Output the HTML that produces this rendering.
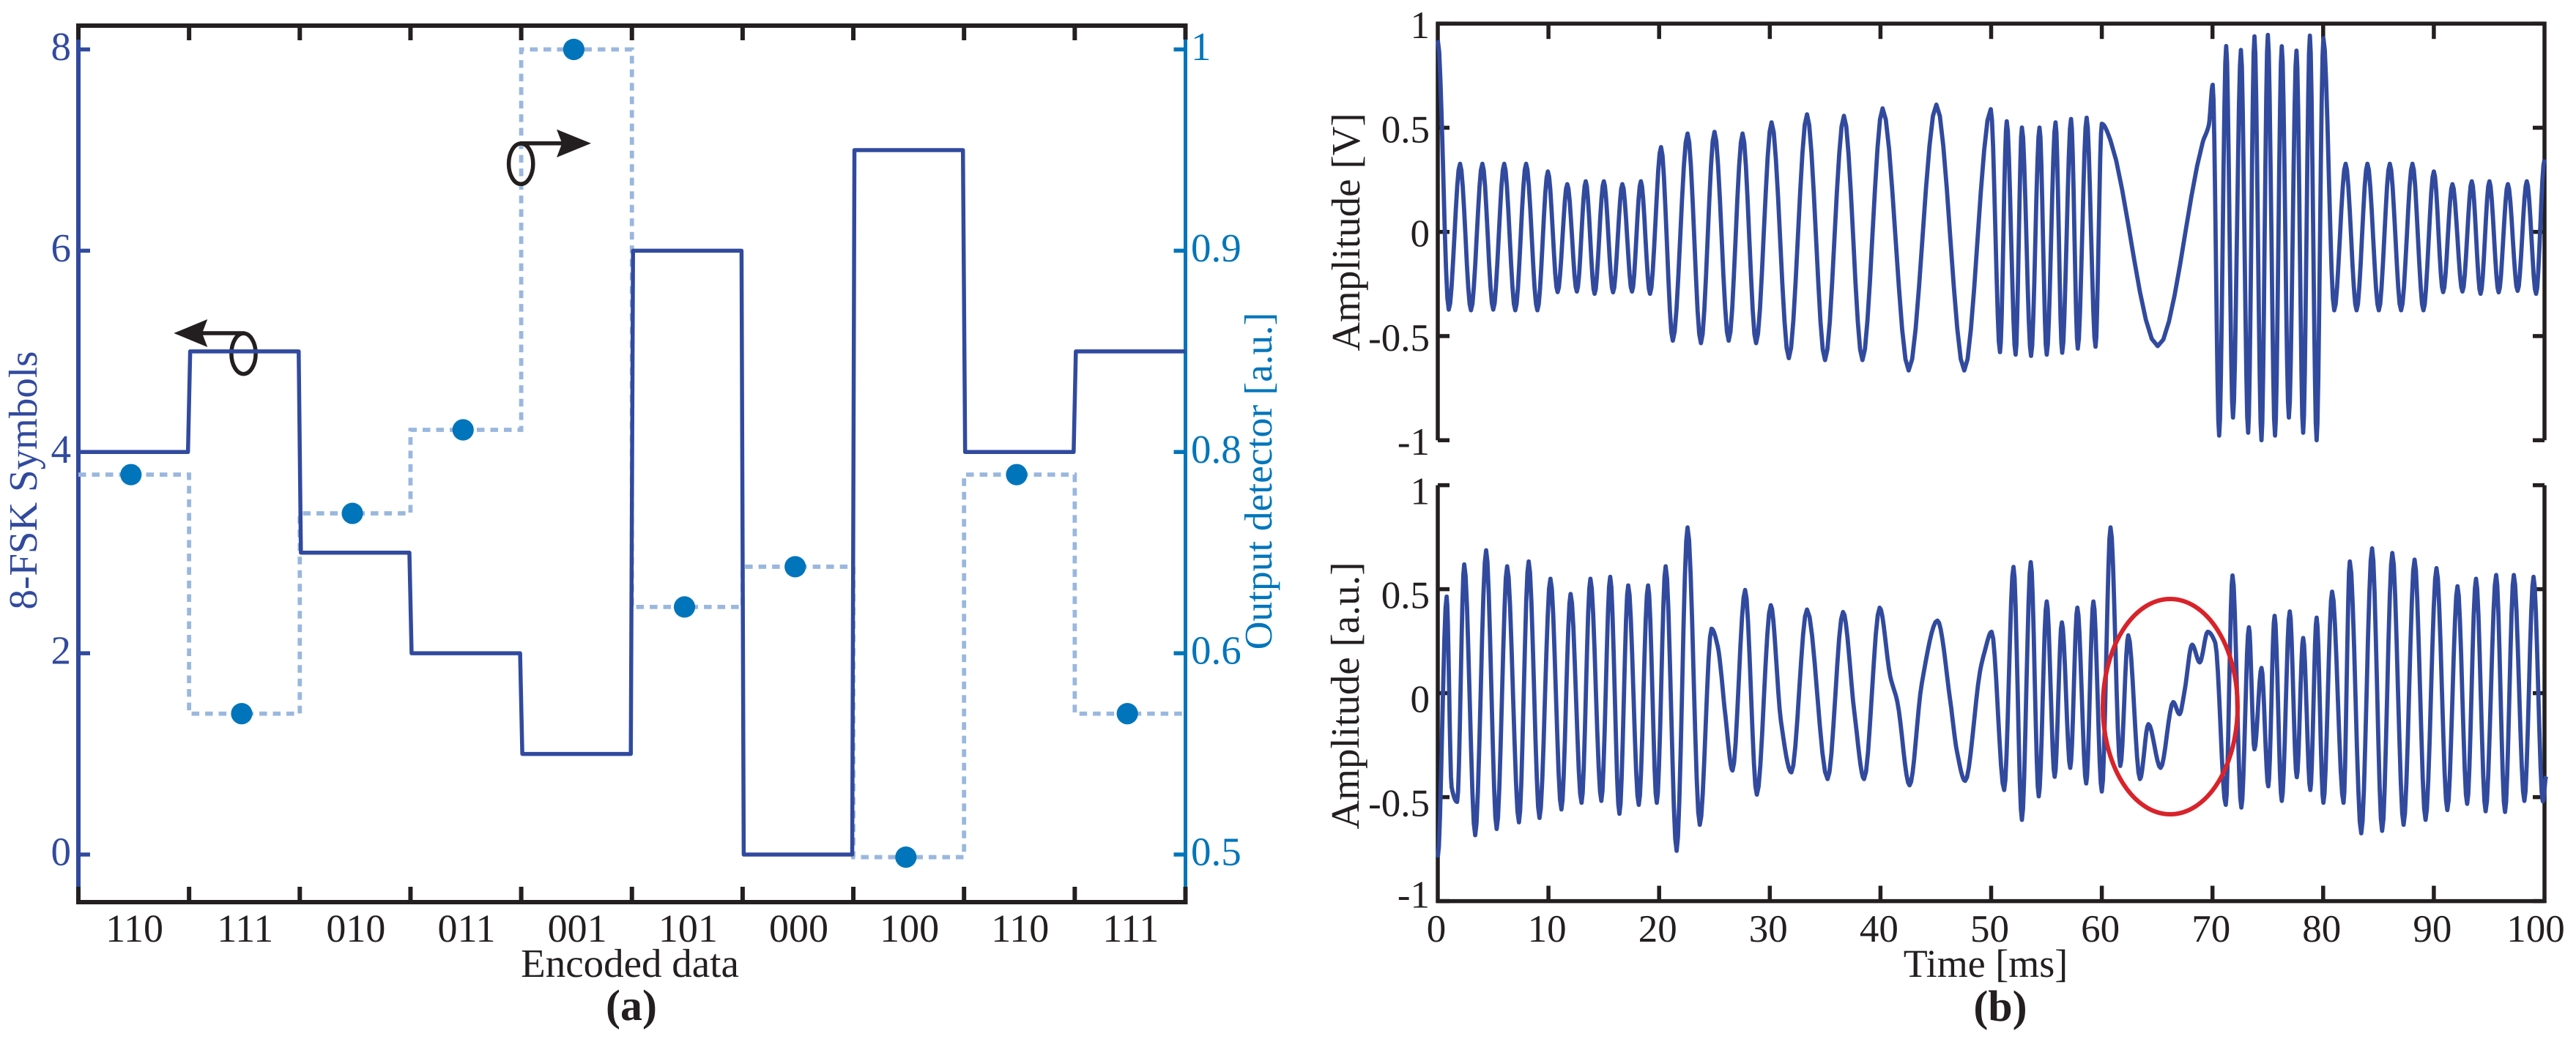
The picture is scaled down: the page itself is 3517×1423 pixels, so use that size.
<!DOCTYPE html>
<html lang="en">
<head>
<meta charset="utf-8">
<title>8-FSK symbols and signal amplitude</title>
<style>
html,body{margin:0;padding:0;background:#fff;}
svg{display:block;}
text{font-family:"Liberation Serif",serif;text-rendering:geometricPrecision;}
</style>
</head>
<body>
<svg id="fig" xmlns="http://www.w3.org/2000/svg" width="3517" height="1423" viewBox="0 0 3517 1423">
  <rect x="0" y="0" width="3517" height="1423" fill="#fff"/>
  <g id="panel-a"></g>
  <g id="panel-b"></g>

  <text transform="translate(50,656) rotate(-90)" text-anchor="middle" font-size="55" fill="#314a9e">8-FSK Symbols</text>
  <text transform="translate(1736,657) rotate(-90)" text-anchor="middle" font-size="53.5" fill="#0075bb">Output detector [a.u.]</text>
  <text x="860" y="1334" text-anchor="middle" font-size="55" fill="#231f20">Encoded data</text>
  <text x="862" y="1393" text-anchor="middle" font-size="60" font-weight="bold" fill="#231f20">(a)</text>

  <text transform="translate(1856,317) rotate(-90)" text-anchor="middle" font-size="55" fill="#231f20">Amplitude [V]</text>
  <text transform="translate(1855,950) rotate(-90)" text-anchor="middle" font-size="55" fill="#231f20">Amplitude [a.u.]</text>
  <text x="2711" y="1334" text-anchor="middle" font-size="54" fill="#231f20">Time [ms]</text>
  <text x="2731" y="1394" text-anchor="middle" font-size="60" font-weight="bold" fill="#231f20">(b)</text>
</svg>

<script>
// ---- Panel (a) data ----
const categories = ["110","111","010","011","001","101","000","100","110","111"];
const symbols = [4,5,3,2,1,6,0,7,4,5];
const detector = [0.7775,0.570,0.739,0.811,1.0,0.646,0.686,0.4987,0.7775,0.570];
const leftTicks = [0,2,4,6,8];
const rightTicks = [0.5,0.6,0.8,0.9,1];
const rightTickLabels = ["0.5","0.6","0.8","0.9","1"];

// ---- Panel (b) data: turning points of each trace ----
const topTimes = [0,0.99,2.01,3.0,4.03,5.01,6.0,7.0,7.98,9.0,9.95,10.83,11.7,12.57,13.37,14.17,15.0,15.84,16.68,17.55,18.35,19.18,20.17,21.24,22.57,23.78,25.0,26.29,27.54,28.76,30.16,31.72,33.36,34.99,36.7,38.37,40.19,42.55,45.05,47.57,49.97,50.8,51.41,52.21,52.78,53.61,54.37,55.02,55.82,56.42,57.22,57.83,58.63,59.43,60.0,60.76,65.05,69.11,69.68,70.02,70.6,71.24,71.85,72.57,73.22,73.79,74.43,75.0,75.65,76.26,76.9,77.59,78.19,78.8,79.41,80.02,81.0,82.03,83.02,84.0,85.03,86.02,87.04,88.07,89.06,90.0,90.84,91.68,92.59,93.43,94.22,95.02,95.86,96.69,97.57,98.4,99.24,100.0];
const topAmps = [0.92,-0.373,0.327,-0.376,0.327,-0.373,0.327,-0.376,0.327,-0.376,0.29,-0.289,0.229,-0.286,0.243,-0.297,0.243,-0.29,0.229,-0.286,0.243,-0.297,0.407,-0.522,0.472,-0.534,0.48,-0.522,0.472,-0.534,0.526,-0.606,0.564,-0.615,0.557,-0.615,0.593,-0.665,0.611,-0.665,0.589,-0.577,0.531,-0.589,0.501,-0.595,0.501,-0.589,0.526,-0.58,0.542,-0.56,0.548,-0.551,0.519,0.443,-0.548,0.429,0.516,0.706,-0.978,0.892,-0.891,0.873,-0.964,0.939,-1.0,0.946,-0.978,0.891,-0.891,0.87,-0.964,0.942,-1.0,0.93,-0.376,0.327,-0.376,0.327,-0.376,0.327,-0.376,0.327,-0.376,0.29,-0.289,0.229,-0.286,0.243,-0.297,0.243,-0.29,0.229,-0.283,0.243,-0.297,0.348];

const bottomTimes = [0,0.8,1.25,1.75,2.39,3.38,4.37,5.32,6.27,7.33,8.21,9.19,10.18,11.17,12.0,12.99,13.79,14.78,15.58,16.41,17.21,18.16,19.0,19.79,20.59,21.58,22.57,23.67,24.73,25.3,26.0,26.63,27.77,28.83,30.09,31.0,31.95,33.36,35.22,36.62,37.65,38.52,39.93,40.88,41.53,42.63,43.73,45.15,46.32,46.89,47.65,48.98,49.36,50.04,51.18,52.02,52.78,53.58,54.3,55.02,55.74,56.39,57.15,57.79,58.59,59.24,60.0,60.79,61.67,62.39,63.45,64.21,65.31,66.45,67.02,67.48,68.16,68.85,69.57,70.25,71.2,71.81,72.61,73.29,73.79,74.43,75.04,75.61,76.26,76.98,77.62,78.19,78.84,79.41,80.02,80.81,81.84,82.41,83.44,84.42,85.33,86.25,87.27,88.26,89.25,90.24,91.22,92.14,93.01,93.81,94.68,95.63,96.43,97.23,98.18,99.01,99.85,100.15];
const bottomAmps = [-0.79,0.464,-0.452,-0.523,0.619,-0.683,0.687,-0.653,0.61,-0.621,0.633,-0.6,0.55,-0.559,0.477,-0.527,0.55,-0.518,0.559,-0.58,0.518,-0.537,0.518,-0.527,0.61,-0.758,0.797,-0.633,0.31,0.224,-0.114,-0.372,0.496,-0.488,0.423,-0.132,-0.381,0.402,-0.413,0.39,-0.096,-0.413,0.411,0.082,-0.043,-0.443,0.046,0.349,-0.043,-0.274,-0.422,0.1,0.189,0.295,-0.466,0.607,-0.609,0.63,-0.496,0.441,-0.402,0.34,-0.359,0.411,-0.434,0.441,-0.473,0.797,-0.35,0.278,-0.413,-0.149,-0.359,-0.043,-0.101,0.011,0.233,0.148,0.295,0.242,-0.537,0.566,-0.55,0.317,-0.27,0.121,-0.448,0.372,-0.518,0.393,-0.404,0.265,-0.466,0.363,-0.527,0.488,-0.527,0.633,-0.674,0.696,-0.662,0.674,-0.633,0.642,-0.609,0.601,-0.562,0.514,-0.532,0.55,-0.568,0.568,-0.571,0.568,-0.518,0.559,-0.52,-0.4];

const timeTicks = [0,10,20,30,40,50,60,70,80,90,100];
const ampTicks = [1,0.5,0,-0.5,-1];
const ampTickLabels = ["1","0.5","0","-0.5","-1"];

// ---- Shared styling ----
const BLACK = "#231f20", BLUE = "#314a9e", CYAN = "#0075bb", LIGHT = "#9ab7de", RED = "#d8232a";
const NS = "http://www.w3.org/2000/svg";
function make(parent, tag, attrs, txt) {
  const el = document.createElementNS(NS, tag);
  for (const k in attrs) el.setAttribute(k, attrs[k]);
  if (txt !== undefined) el.textContent = txt;
  parent.appendChild(el);
  return el;
}
function seg(parent, x1, y1, x2, y2, color, w) {
  return make(parent, "line", {x1, y1, x2, y2, stroke: color, "stroke-width": w});
}
function label(parent, x, y, txt, anchor, size, color) {
  return make(parent, "text", {x, y, "text-anchor": anchor, "font-size": size, fill: color}, txt);
}

// ---- Panel (a) ----
const pa = document.getElementById("panel-a");
const aLeft = 107, aRight = 1618.5, aTop = 35, aBottom = 1232;
const y0Pos = 1167, y8Pos = 67.5;
const aX = i => aLeft + (aRight - aLeft) * i / categories.length;
const aY = v => y0Pos + (y8Pos - y0Pos) * v / 8;
function aYR(v) {
  const n = rightTicks.length - 1;
  let k = 0;
  while (k < n - 1 && v > rightTicks[k + 1]) k++;
  const f = (v - rightTicks[k]) / (rightTicks[k + 1] - rightTicks[k]);
  return y0Pos + (y8Pos - y0Pos) * (k + f) / n;
}

let el;
el = seg(pa, aLeft, 54, aLeft, aBottom - 21, BLUE, 6);


el = seg(pa, aRight, 54, aRight, aBottom - 21, CYAN, 5);


el = make(pa, "path", {d: `M${aLeft} 54 V${aTop} H${aRight} V54`, fill: "none", stroke: BLACK, "stroke-width": 6});


el = make(pa, "path", {d: `M${aLeft} ${aBottom - 21} V${aBottom} H${aRight} V${aBottom - 21}`, fill: "none", stroke: BLACK, "stroke-width": 6});



categories.forEach((c, i) => {
  if (i > 0) {
    const t1 = seg(pa, aX(i), aTop, aX(i), 55, BLACK, 6);
    
    
    const t2 = seg(pa, aX(i), aBottom, aX(i), 1211, BLACK, 6);
    
    
  }
  const t = label(pa, aX(i + 0.5) + 1, 1286, c, "middle", 54, BLACK);
  
  
});
leftTicks.forEach(v => {
  const tk = seg(pa, aLeft, aY(v), aLeft + 16, aY(v), BLUE, 5.5);
  
  
  const t = label(pa, 97, aY(v) + 14.5, String(v), "end", 55, BLUE);
  
  
});
rightTicks.forEach((v, i) => {
  const tk = seg(pa, aRight - 16, aYR(v), aRight, aYR(v), CYAN, 5.5);
  
  
  const t = label(pa, 1626, aYR(v) + 14.5, rightTickLabels[i], "start", 55, CYAN);
  
  
});

// detector dashed step line
let dDash = `M${aX(0)} ${aYR(detector[0])}`;
detector.forEach((v, i) => {
  if (i > 0) dDash += ` V${aYR(v)}`;
  dDash += ` H${aX(i + 1)}`;
});
el = make(pa, "path", {d: dDash, fill: "none", stroke: LIGHT, "stroke-width": 5.8, "stroke-dasharray": "10.5 8"});



// rotation arrows
function arrow(name, ex, ey, pts, shaftX1, shaftX2, shaftY) {
  const g = make(pa, "g", {});
  
  
  make(g, "ellipse", {cx: ex, cy: ey, rx: 16.6, ry: 27.7, fill: "none", stroke: BLACK, "stroke-width": 5.5});
  seg(g, shaftX1, shaftY, shaftX2, shaftY, BLACK, 5.5);
  make(g, "polygon", {points: pts, fill: BLACK});
}
arrow("left-axis-arrow", 332.5, 483, "237.3,455 283.3,436 276,455 283.3,474", 276, 334, 455);
arrow("right-axis-arrow", 711.2, 223.7, "807,195.7 760,176.7 767.3,195.7 760,215", 710, 768, 195.7);

// symbol solid step line
let dStep = `M${aX(0)} ${aY(symbols[0])}`;
symbols.forEach((v, i) => {
  if (i > 0) dStep += ` L${aX(i) + 1.5} ${aY(v)}`;
  const endX = i === symbols.length - 1 ? aX(i + 1) : aX(i + 1) - 1.5;
  dStep += ` L${endX} ${aY(v)}`;
});
el = make(pa, "path", {d: dStep, fill: "none", stroke: BLUE, "stroke-width": 5.5, "stroke-linejoin": "round"});



// detector points
detector.forEach((v, i) => {
  const c = make(pa, "circle", {cx: aX(i + 0.475), cy: aYR(v), r: 14.6, fill: CYAN});
  
  
});

// ---- Panel (b) ----
const pb = document.getElementById("panel-b");
const bX = t => 1963 + t * 15.11;
const yTop = a => 316.7 - a * 284.5;
const yBot = a => 946.6 - a * 284;

// Smooth monotone curve through the read turning points:
// flat at local extrema, harmonic-mean slope at shoulders.
function tracePath(times, amps, xf, yf) {
  const N = times.length;
  const slope = new Array(N).fill(0);
  for (let i = 1; i < N - 1; i++) {
    const s0 = (amps[i] - amps[i - 1]) / (times[i] - times[i - 1]);
    const s1 = (amps[i + 1] - amps[i]) / (times[i + 1] - times[i]);
    slope[i] = s0 * s1 > 0 ? 2 * s0 * s1 / (s0 + s1) : 0;
  }
  let d = `M${xf(times[0]).toFixed(1)} ${yf(amps[0]).toFixed(1)}`;
  for (let i = 1; i < N; i++) {
    const h = times[i] - times[i - 1];
    const n = 8;
    for (let s = 1; s <= n; s++) {
      const f = s / n;
      const h00 = 2 * f * f * f - 3 * f * f + 1;
      const h10 = f * f * f - 2 * f * f + f;
      const h01 = -2 * f * f * f + 3 * f * f;
      const h11 = f * f * f - f * f;
      const a = h00 * amps[i - 1] + h10 * h * slope[i - 1] + h01 * amps[i] + h11 * h * slope[i];
      const t = times[i - 1] + h * f;
      d += `L${xf(t).toFixed(1)} ${yf(a).toFixed(1)}`;
    }
  }
  return d;
}

function drawFrame(isTop, yf) {
  const lx = bX(0), rx = bX(100);
  const edge = isTop ? yf(1) : yf(-1);
  const far = isTop ? yf(-1) : yf(1);
  el = make(pb, "path", {d: `M${lx} ${far} V${edge} H${rx} V${far}`, fill: "none", stroke: BLACK, "stroke-width": 5.5});
  
  

  ampTicks.forEach((v, i) => {
    const y = yf(v);
    const t1 = seg(pb, lx, y, lx + 16, y, BLACK, 5.5);
    
    
    const t2 = seg(pb, rx - 16, y, rx, y, BLACK, 5.5);
    
    
    const dy = isTop ? 20 : (v === -1 ? 9 : 26);
    const t = label(pb, 1952, y + dy, ampTickLabels[i], "end", 53, BLACK);
    
    
  });
  timeTicks.forEach(v => {
    if (v === 0 || v === 100) return;
    const y2 = isTop ? edge + 21 : edge - 21;
    const t = seg(pb, bX(v), edge, bX(v), y2, BLACK, 5.5);
    
    
  });
}
drawFrame(true, yTop);
drawFrame(false, yBot);

timeTicks.forEach(v => {
  const shift = v === 100 ? -12 : -2;
  const t = label(pb, bX(v) + shift, 1286, String(v), "middle", 53, BLACK);
  
  
});

el = make(pb, "path", {d: tracePath(topTimes, topAmps, bX, yTop), fill: "none", stroke: BLUE, "stroke-width": 5.8, "stroke-linejoin": "round"});


el = make(pb, "path", {d: tracePath(bottomTimes, bottomAmps, bX, yBot), fill: "none", stroke: BLUE, "stroke-width": 5.8, "stroke-linejoin": "round"});



el = make(pb, "ellipse", {cx: 2963, cy: 965, rx: 92, ry: 147, fill: "none", stroke: RED, "stroke-width": 6});


</script>
</body>
</html>
